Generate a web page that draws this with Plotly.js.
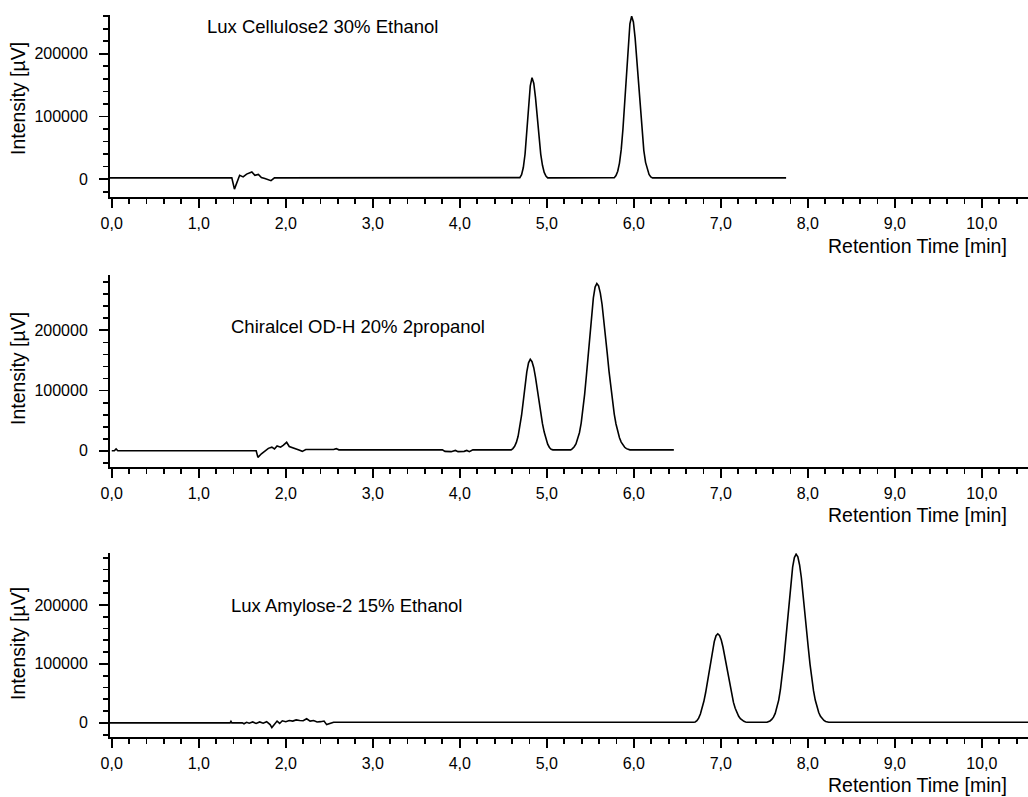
<!DOCTYPE html>
<html>
<head>
<meta charset="utf-8">
<script src="https://cdn.plot.ly/plotly-3.0.1.min.js"></script>
<style>html,body{margin:0;padding:0;background:#fff;}#chart{width:1028px;height:797px;}</style>
</head>
<body>
<div id="chart"></div>
<script>
// ---- Data ----
const panelLabels = ["Lux Cellulose2 30% Ethanol", "Chiralcel OD-H 20% 2propanol", "Lux Amylose-2 15% Ethanol"];
const xTickVals = [0,1,2,3,4,5,6,7,8,9,10];
const xTickText = ["0,0","1,0","2,0","3,0","4,0","5,0","6,0","7,0","8,0","9,0","10,0"];
const yTickVals = [0,100000,200000];
const yTickText = ["0","100000","200000"];
const xTitle = "Retention Time [min]";
const yTitle = "Intensity [µV]";

// Lux Cellulose2 30% Ethanol
const celluloseTime = [-0.02,1.38,1.41,1.435,1.47,1.51,1.55,1.61,1.645,1.685,1.72,1.76,1.80,1.83,1.87,
  4.68,4.69,4.71,4.73,4.75,4.77,4.79,4.81,4.83,4.85,4.87,4.89,4.91,4.93,4.95,4.97,4.99,5.01,5.03,
  5.76,5.775,5.795,5.815,5.835,5.855,5.875,5.895,5.915,5.935,5.955,5.975,5.995,6.015,6.035,6.055,6.075,6.095,6.115,6.135,6.155,6.175,6.195,6.215,6.24,7.75];
const celluloseSignal = [2000,2000,-16000,-8000,6000,3500,8000,11500,6000,7500,2500,1000,-1500,-2500,2000,
  2000,2300,7000,18500,40000,74000,115000,149000,162000,153000,130000,98000,66000,40000,22000,10700,4700,2000,2000,
  2000,2300,5600,12600,25500,47000,80000,122000,170000,215000,248000,260000,251000,225000,189000,147000,107000,72000,45500,26700,14600,7400,3500,2000,2000,2000];

// Chiralcel OD-H 20% 2propanol
const chiralcelTime = [0.0,0.03,0.05,0.07,1.66,1.68,1.72,1.76,1.80,1.84,1.87,1.90,1.94,1.97,2.01,2.04,2.08,2.12,2.16,2.19,2.23,2.55,2.58,2.61,3.80,3.83,3.90,3.95,3.98,4.05,4.08,4.11,4.15,
  4.59,4.61,4.63,4.65,4.67,4.69,4.71,4.73,4.75,4.77,4.79,4.81,4.83,4.85,4.87,4.89,4.91,4.93,4.95,4.97,4.99,5.01,5.03,5.05,5.07,
  5.275,5.295,5.315,5.335,5.355,5.375,5.395,5.415,5.435,5.455,5.475,5.495,5.515,5.535,5.555,5.575,5.595,5.615,5.635,5.655,5.675,5.695,5.715,5.735,5.755,5.775,5.795,5.815,5.835,5.855,5.875,5.895,5.915,5.935,5.955,6.46];
const chiralcelSignal = [0,0,3000,0,0,-11000,-5000,-1000,4000,6000,3000,8000,6000,9000,14000,7000,5000,4000,1000,-1000,2000,2000,3500,1500,1500,-1000,-1500,500,-1500,-1000,500,-1500,1500,
  1500,3600,7300,13800,24000,39000,59000,83000,108000,131000,146000,152000,148000,138000,122000,102000,82000,62500,45000,31000,20500,11000,5500,2500,1500,
  1500,3600,6600,11400,19000,30000,46000,67000,94000,125000,160000,195000,228000,254000,272000,278000,274000,262000,243000,218000,190000,161000,132000,105000,82000,61000,44500,31500,21600,14400,9300,5800,3500,2100,1500,1500];

// Lux Amylose-2 15% Ethanol
const amyloseTime = [-0.02,1.36,1.37,1.38,1.50,1.52,1.55,1.58,1.62,1.66,1.70,1.74,1.78,1.82,1.84,1.87,1.90,1.93,1.96,2.00,2.04,2.08,2.12,2.16,2.20,2.24,2.28,2.32,2.36,2.40,2.44,2.47,2.50,2.55,
  6.69,6.705,6.725,6.745,6.765,6.785,6.805,6.825,6.845,6.865,6.885,6.905,6.925,6.945,6.965,6.985,7.005,7.025,7.045,7.065,7.085,7.105,7.125,7.145,7.165,7.185,7.205,7.225,7.245,7.265,7.285,7.30,
  7.53,7.545,7.565,7.585,7.605,7.625,7.645,7.665,7.685,7.705,7.725,7.745,7.765,7.785,7.805,7.825,7.845,7.865,7.885,7.905,7.925,7.945,7.965,7.985,8.005,8.025,8.045,8.065,8.085,8.105,8.125,8.145,8.165,8.185,8.205,8.225,8.24,10.53];
const amyloseSignal = [0,0,2500,0,0,-1500,1000,-500,1500,-1000,1500,-500,2000,-3000,-8000,-2000,3000,-1000,3500,2000,4000,3000,5000,4000,3500,7000,3000,4000,1500,2000,3000,-3000,-1000,1000,
  1000,1500,3500,8000,15000,25000,36500,51000,68000,86800,105800,123700,138000,147700,151000,148300,140400,128200,112900,95900,78500,62100,47300,34700,24600,16800,11100,7000,4300,2600,1500,1000,
  1000,1500,3200,5700,9700,16000,25500,38600,56600,79500,107300,139300,173600,207600,238800,264000,280300,286000,281400,267700,246500,219600,189300,157900,127300,99200,74900,54600,38600,26500,17500,11200,6900,4100,2400,1500,1000,1000];

const panelTimes = [celluloseTime, chiralcelTime, amyloseTime];
const panelSignals = [celluloseSignal, chiralcelSignal, amyloseSignal];

// ---- Layout geometry (pixels on the 1028x797 page) ----
const W = 1028, H = 797;
const plotLeft = 110;
const panelTop = [15, 275, 553];
const panelBottom = [197, 467, 737];
const yRanges = [[-28600, 262000], [-27000, 292000], [-24000, 288000]];
const xRange = [-0.02, 10.53];
const labelPos = [[205, 26], [229, 326], [229, 605]];
const yTitleCenter = [99, 369, 644];
const xTitleCenter = [246, 515, 785];

const FONT = "Liberation Sans, Arial, Helvetica, sans-serif";
const INK = "#000";

const traces = [];
const layout = {
  width: W, height: H,
  margin: {l: 0, r: 0, t: 0, b: 0},
  paper_bgcolor: "#fff", plot_bgcolor: "#fff",
  showlegend: false,
  font: {family: FONT, color: INK, size: 16},
  annotations: []
};

for (let i = 0; i < 3; i++) {
  const sfx = i === 0 ? "" : String(i + 1);
  traces.push({
    type: "scatter", mode: "lines",
    x: panelTimes[i], y: panelSignals[i],
    xaxis: "x" + sfx, yaxis: "y" + sfx,
    line: {color: INK, width: 1.6},
    hoverinfo: "skip"
  });
  layout["xaxis" + sfx] = {
    domain: [plotLeft / W, 1],
    anchor: "y" + sfx,
    range: xRange,
    showgrid: false, zeroline: false,
    showline: true, linecolor: INK, linewidth: 2,
    ticks: "outside", ticklen: 9, tickwidth: 1.8, tickcolor: INK,
    tickmode: "array", tickvals: xTickVals, ticktext: xTickText,
    ticklabelstandoff: 2,
    tickfont: {family: FONT, size: 16, color: INK},
    minor: {tickmode: "linear", tick0: 0, dtick: 0.2, ticks: "outside", ticklen: 5, tickwidth: 1.8, tickcolor: INK, showgrid: false}
  };
  layout["yaxis" + sfx] = {
    domain: [1 - panelBottom[i] / H, 1 - panelTop[i] / H],
    anchor: "x" + sfx,
    range: yRanges[i],
    showgrid: false, zeroline: false,
    showline: true, linecolor: INK, linewidth: 2,
    ticks: "outside", ticklen: 9, tickwidth: 1.8, tickcolor: INK,
    tickmode: "array", tickvals: yTickVals, ticktext: yTickText,
    ticklabelstandoff: 8,
    tickfont: {family: FONT, size: 16, color: INK},
    minor: {tickmode: "linear", tick0: 0, dtick: 20000, ticks: "outside", ticklen: 5, tickwidth: 1.8, tickcolor: INK, showgrid: false}
  };
  layout.annotations.push({
    xref: "paper", yref: "paper",
    x: labelPos[i][0] / W, y: 1 - labelPos[i][1] / H,
    xanchor: "left", yanchor: "middle", showarrow: false,
    text: panelLabels[i], font: {family: FONT, size: 18.5, color: INK}
  });
  layout.annotations.push({
    xref: "paper", yref: "paper",
    x: 1009 / W, y: 1 - xTitleCenter[i] / H,
    xanchor: "right", yanchor: "middle", showarrow: false,
    text: xTitle, font: {family: FONT, size: 19.5, color: INK}
  });
  layout.annotations.push({
    xref: "paper", yref: "paper",
    x: 18 / W, y: 1 - yTitleCenter[i] / H,
    xanchor: "center", yanchor: "middle", showarrow: false, textangle: -90,
    text: yTitle, font: {family: FONT, size: 19.5, color: INK}
  });
}

Plotly.newPlot("chart", traces, layout, {staticPlot: true, displayModeBar: false});
</script>
</body>
</html>
